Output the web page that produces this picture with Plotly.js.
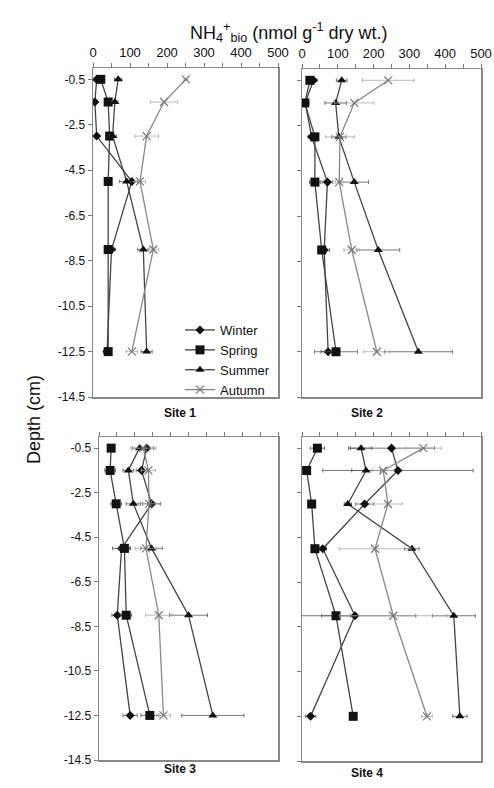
<!DOCTYPE html>
<html><head><meta charset="utf-8">
<script src="https://cdn.plot.ly/plotly-3.0.1.min.js"></script>
<style>html,body{margin:0;padding:0;background:#fff}#chart{width:494px;height:788px}</style>
</head><body><div id="chart"></div>
<script>
// Depths (cm) at which samples were taken
var depths = [-0.5, -1.5, -3, -5, -8, -12.5];
var seasons = ['Winter', 'Spring', 'Summer', 'Autumn'];
var sites = ['Site 1', 'Site 2', 'Site 3', 'Site 4'];
var yTickVals = [-0.5, -2.5, -4.5, -6.5, -8.5, -10.5, -12.5, -14.5];
var xTickVals = [0, 100, 200, 300, 400, 500];

// Site 1
var winter1 = [10, 5, 10, 105, 50, 38];
var spring1 = [21, 41, 45, 41, 41, 41];
var summer1 = [68, 59, 53, 91, 136, 145];
var autumn1 = [251, 192, 145, 127, 163, 105];
var winter1Err = [5, 5, 5, 15, 10, 10];
var spring1Err = [5, 5, 10, 5, 5, 8];
var summer1Err = [10, 8, 10, 20, 15, 15];
var autumn1Err = [5, 37, 32, 15, 15, 15];
// Site 2
var winter2 = [32, 9, 27, 71, 62, 73];
var spring2 = [22, 8, 36, 36, 55, 95];
var summer2 = [111, 94, 103, 146, 213, 325];
var autumn2 = [241, 146, 106, 104, 139, 209];
var winter2Err = [10, 10, 10, 15, 15, 20];
var spring2Err = [10, 10, 10, 15, 10, 60];
var summer2Err = [15, 30, 20, 40, 60, 95];
var autumn2Err = [72, 55, 40, 10, 22, 36];
// Site 3
var winter3 = [133, 119, 147, 63, 51, 87];
var spring3 = [34, 31, 48, 71, 76, 142];
var summer3 = [113, 82, 96, 147, 250, 318];
var autumn3 = [124, 138, 140, 131, 167, 180];
var winter3Err = [20, 15, 25, 25, 15, 20];
var spring3Err = [5, 15, 15, 15, 15, 25];
var summer3Err = [20, 15, 20, 30, 53, 87];
var autumn3Err = [35, 20, 30, 30, 37, 20];
// Site 4
var winter4 = [250, 268, 175, 58, 148, 24];
var spring4 = [43, 13, 27, 36, 95, 143];
var summer4 = [165, 179, 128, 307, 424, 441];
var autumn4 = [339, 227, 240, 204, 255, 349];
var winter4Err = [120, 210, 25, 10, 170, 15];
var spring4Err = [20, 10, 5, 5, 40, 5];
var summer4Err = [30, 40, 10, 20, 60, 20];
var autumn4Err = [50, 30, 40, 100, 150, 15];

var siteData = [
  [winter1, spring1, summer1, autumn1, winter1Err, spring1Err, summer1Err, autumn1Err],
  [winter2, spring2, summer2, autumn2, winter2Err, spring2Err, summer2Err, autumn2Err],
  [winter3, spring3, summer3, autumn3, winter3Err, spring3Err, summer3Err, autumn3Err],
  [winter4, spring4, summer4, autumn4, winter4Err, spring4Err, summer4Err, autumn4Err]
];

var styles = [
  {symbol: 'diamond', size: 7, color: '#111', line: '#444'},
  {symbol: 'square', size: 9, color: '#111', line: '#444'},
  {symbol: 'triangle-up', size: 8, color: '#111', line: '#444'},
  {symbol: 'x-thin', size: 8, color: '#777', line: '#888'}
];

var traces = [];
for (var s = 0; s < 4; s++) {
  var ax = s === 0 ? '' : String(s + 1);
  for (var k = 0; k < 4; k++) {
    var st = styles[k];
    traces.push({
      type: 'scatter', mode: 'lines+markers',
      x: siteData[s][k], y: depths,
      xaxis: 'x' + ax, yaxis: 'y' + ax,
      name: seasons[k], legendgroup: seasons[k], showlegend: s === 0,
      line: {color: st.line, width: 1.3},
      marker: {symbol: st.symbol, size: st.size, color: st.color,
               line: {color: st.color, width: k === 3 ? 1.2 : 0}},
      error_x: {type: 'data', array: siteData[s][k + 4], visible: true,
                color: k === 3 ? '#aaa' : '#555', thickness: 0.8, width: 2}
    });
  }
}

var W = 494, H = 788;
var boxes = [
  {x0: 93, x1: 278, y0: 68, y1: 397},
  {x0: 302, x1: 481, y0: 69, y1: 397},
  {x0: 99, x1: 278, y0: 437, y1: 760},
  {x0: 302, x1: 481, y0: 437, y1: 761}
];
var layout = {
  width: W, height: H, margin: {l: 0, r: 0, t: 0, b: 0},
  paper_bgcolor: '#fff', plot_bgcolor: '#fff',
  font: {family: 'Liberation Sans, Arial, sans-serif', color: '#111'},
  showlegend: true,
  legend: {x: 180 / W, y: 1 - 315 / H, xanchor: 'left', yanchor: 'top',
           bgcolor: 'rgba(0,0,0,0)', font: {size: 13, color: '#111'},
           tracegroupgap: 0, itemwidth: 30},
  annotations: [
    {text: 'NH<sub>4</sub><sup>+</sup><sub>bio</sub> (nmol g<sup>-1</sup> dry wt.)',
     xref: 'paper', yref: 'paper', x: 288 / W, y: 1 - 18 / H, showarrow: false,
     font: {size: 18, color: '#111'}},
    {text: 'Depth (cm)', xref: 'paper', yref: 'paper', x: 22 / W, y: 1 - 420 / H,
     textangle: -90, showarrow: false, font: {size: 18, color: '#111'}},
    {text: '<b>Site 1</b>', xref: 'paper', yref: 'paper', x: 180 / W, y: 1 - 413 / H, showarrow: false, font: {size: 12}},
    {text: '<b>Site 2</b>', xref: 'paper', yref: 'paper', x: 385 / W, y: 1 - 413 / H, showarrow: false, font: {size: 12}},
    {text: '<b>Site 3</b>', xref: 'paper', yref: 'paper', x: 180 / W, y: 1 - 778 / H, showarrow: false, font: {size: 12}},
    {text: '<b>Site 4</b>', xref: 'paper', yref: 'paper', x: 385 / W, y: 1 - 782 / H, showarrow: false, font: {size: 12}}
  ]
};
for (var i = 0; i < 4; i++) {
  var b = boxes[i];
  var sfx = i === 0 ? '' : String(i + 1);
  layout['xaxis' + sfx] = {
    domain: [b.x0 / W, b.x1 / W], range: [0, 500], side: 'top',
    anchor: 'y' + sfx, tickvals: xTickVals,
    minor: {dtick: 50, tick0: 0, ticks: 'outside', ticklen: 4, tickcolor: '#777', showgrid: false},
    showticklabels: i < 2, ticks: 'outside', ticklen: 4, tickcolor: '#777',
    tickfont: {size: 13, color: '#111'}, showgrid: false, zeroline: false,
    showline: true, linecolor: '#888', linewidth: 1.5, mirror: true, fixedrange: true
  };
  layout['yaxis' + sfx] = {
    domain: [1 - b.y1 / H, 1 - b.y0 / H], range: [-14.5, 0],
    anchor: 'x' + sfx, tickvals: yTickVals, ticktext: yTickVals.map(String),
    showticklabels: i === 0 || i === 2, ticks: 'outside', ticklen: 4, tickcolor: '#777',
    tickfont: {size: 12, color: '#111'}, showgrid: false, zeroline: false,
    showline: true, linecolor: '#888', linewidth: 1.5, mirror: true, fixedrange: true
  };
}
Plotly.newPlot('chart', traces, layout, {staticPlot: true});
</script></body></html>
